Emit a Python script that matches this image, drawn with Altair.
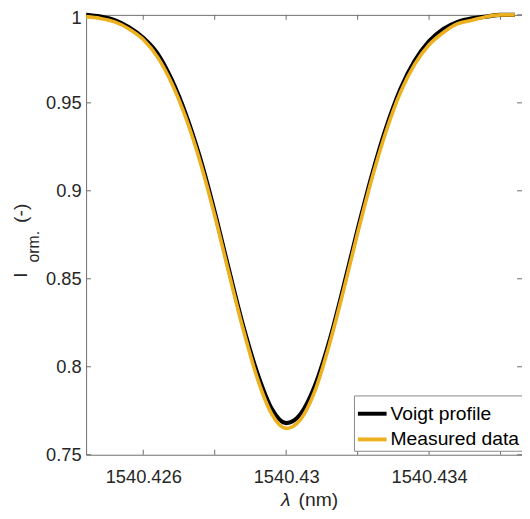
import altair as alt
import pandas as pd

# wavelength samples (nm)
wavelength = [1540.4244, 1540.4248, 1540.4252, 1540.4256, 1540.4260, 1540.4264,
              1540.4268, 1540.4272, 1540.4276, 1540.4280, 1540.4284, 1540.4288,
              1540.4292, 1540.4296, 1540.4300, 1540.4304, 1540.4308, 1540.4312,
              1540.4316, 1540.4320, 1540.4324, 1540.4328, 1540.4332, 1540.4336,
              1540.4340, 1540.4344, 1540.4348, 1540.4352, 1540.4356, 1540.4360,
              1540.4364]
measured = [0.999, 0.998, 0.996, 0.992, 0.986, 0.976, 0.961, 0.941, 0.916, 0.886,
            0.853, 0.821, 0.793, 0.773, 0.765, 0.770, 0.786, 0.812, 0.843, 0.876,
            0.907, 0.934, 0.956, 0.972, 0.983, 0.990, 0.995, 0.997, 0.999, 1.000,
            1.000]
voigt = [1.000, 0.999, 0.997, 0.993, 0.987, 0.978, 0.963, 0.943, 0.918, 0.888,
         0.855, 0.823, 0.796, 0.776, 0.768, 0.773, 0.789, 0.814, 0.845, 0.878,
         0.909, 0.936, 0.958, 0.974, 0.985, 0.992, 0.996, 0.998, 0.999, 1.000,
         1.000]
series_names = ["Voigt profile", "Measured data"]
series_colors = ["#000000", "#EDB120"]
x_label_values = [1540.426, 1540.430, 1540.434]
x_tick_values = [1540.426, 1540.428, 1540.430, 1540.432, 1540.434, 1540.436]
y_tick_values = [0.75, 0.80, 0.85, 0.90, 0.95, 1.00]
x_domain = [1540.4244, 1540.4366]
y_domain = [0.75, 1.0]

FONT = "Liberation Sans"
W, H = 441, 445

rows = []
for lam, v in zip(wavelength, voigt):
    rows.append({"lam": lam, "I": v, "series": series_names[0]})
for lam, m in zip(wavelength, measured):
    rows.append({"lam": lam, "I": m, "series": series_names[1]})
df = pd.DataFrame(rows)

xscale = alt.Scale(domain=x_domain, nice=False, zero=False)
yscale = alt.Scale(domain=y_domain, nice=False, zero=False)
cscale = alt.Scale(domain=series_names, range=series_colors)

xaxis = alt.Axis(values=x_label_values, format=".7~g", title=None, grid=False,
                 ticks=False, tickSize=0, domain=False, labelFont=FONT,
                 labelFontSize=18.5, labelColor="#262626", labelPadding=28,
                 labelBaseline="alphabetic", labelFlush=False)
yaxis = alt.Axis(values=y_tick_values, format="~g", title=None, grid=False,
                 ticks=False, tickSize=0, domain=False, labelFont=FONT,
                 labelFontSize=18.5, labelColor="#262626", labelPadding=5,
                 labelFlush=False,
                 labelOffset={"condition": {"test": "datum.value >= 0.999", "value": 2.5},
                              "value": 0})

legend = alt.Legend(title=None, orient="none", legendX=271, legendY=385,
                    symbolType="stroke", symbolSize=841, symbolStrokeWidth=4,
                    labelFont=FONT, labelFontSize=19.5, labelColor="#000000",
                    labelOffset=2, padding=2, rowPadding=-7,
                    strokeColor="#8a8a8a", fillColor="#ffffff", cornerRadius=0)

base = alt.Chart(df)
voigt_line = base.transform_filter(alt.datum.series == series_names[0]).mark_line(
    strokeWidth=4.2, interpolate="monotone").encode(
    x=alt.X("lam:Q", scale=xscale, axis=xaxis),
    y=alt.Y("I:Q", scale=yscale, axis=yaxis),
    color=alt.Color("series:N", scale=cscale, legend=legend),
)
meas_line = base.transform_filter(alt.datum.series == series_names[1]).mark_line(
    strokeWidth=3.6, interpolate="monotone").encode(
    x=alt.X("lam:Q", scale=xscale, axis=xaxis),
    y=alt.Y("I:Q", scale=yscale, axis=yaxis),
    color=alt.Color("series:N", scale=cscale, legend=legend),
)

xt = pd.DataFrame({"lam": x_tick_values})
yt = pd.DataFrame({"I": y_tick_values})
tick_color = "#6e6e6e"
xb = alt.Chart(xt).mark_rule(color=tick_color, strokeWidth=1).encode(
    x=alt.X("lam:Q", scale=xscale, axis=xaxis), y=alt.value(H - 5), y2=alt.value(H))
xtop = alt.Chart(xt).mark_rule(color=tick_color, strokeWidth=1).encode(
    x=alt.X("lam:Q", scale=xscale, axis=xaxis), y=alt.value(0), y2=alt.value(5))
yl = alt.Chart(yt).mark_rule(color=tick_color, strokeWidth=1).encode(
    y=alt.Y("I:Q", scale=yscale, axis=yaxis), x=alt.value(0), x2=alt.value(5))
yr = alt.Chart(yt).mark_rule(color=tick_color, strokeWidth=1).encode(
    y=alt.Y("I:Q", scale=yscale, axis=yaxis), x=alt.value(W - 5), x2=alt.value(W))


def label(text, x, y, size, angle=0, style="normal", align="left"):
    kw = dict(font=FONT, fontSize=size, color="#262626", align=align,
              baseline="alphabetic", fontStyle=style)
    if angle:
        kw["angle"] = angle
    return alt.Chart(pd.DataFrame({"s": [text]})).mark_text(**kw).encode(
        text="s:N", x=alt.value(x), y=alt.value(y))


ytitle_I = label("I", -60, 266, 19.5, angle=270)
ytitle_sub = label("orm.", -47.5, 250.5, 16, angle=270)
ytitle_unit = label("(-)", -60, 210.5, 19.5, angle=270)
xtitle_lam = label("λ", 202, 497, 19.5, style="italic", align="center")
xtitle_unit = label("(nm)", 215, 497, 19.5)

chart = alt.layer(
    xb, xtop, yl, yr, voigt_line, meas_line,
    ytitle_I, ytitle_sub, ytitle_unit, xtitle_lam, xtitle_unit,
).properties(
    width=W, height=H,
    autosize=alt.AutoSizeParams(type="none"),
    padding={"left": 79, "top": 4, "right": 0, "bottom": 57},
    background="#ffffff",
).configure_view(stroke="#6e6e6e", strokeWidth=1)

chart.save("out.html", embed_options={"renderer": "svg", "actions": False})
